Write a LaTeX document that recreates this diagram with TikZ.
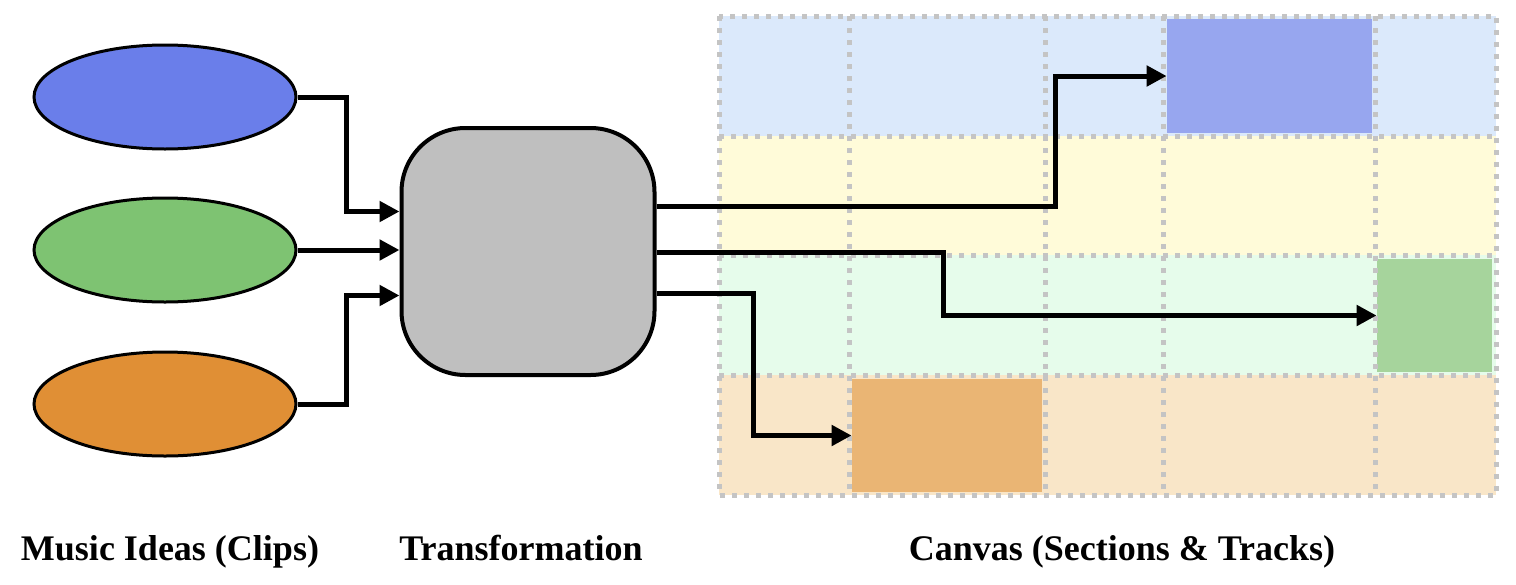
\documentclass[tikz,border=0pt]{standalone}
\usepackage{fontspec}
\setmainfont{Liberation Serif}
\usetikzlibrary{arrows.meta,calc,shapes.geometric}

\definecolor{ideaBlue}{HTML}{6A7EEA}
\definecolor{ideaGreen}{HTML}{7EC372}
\definecolor{ideaOrange}{HTML}{E08F35}
\definecolor{rowBlue}{HTML}{DBE9FB}
\definecolor{rowYellow}{HTML}{FFFBD9}
\definecolor{rowGreen}{HTML}{E6FCEB}
\definecolor{rowOrange}{HTML}{F9E6C8}
\definecolor{clipBlue}{HTML}{97A6EF}
\definecolor{clipGreen}{HTML}{A6D49C}
\definecolor{clipOrange}{HTML}{EAB574}
\definecolor{gridGray}{HTML}{C4C4C4}

\tikzset{
  idea/.style={ellipse, draw=black, line width=1.5pt, minimum width=131pt, minimum height=52pt, inner sep=0pt},
  flow/.style={line width=2.5pt, -{Triangle[length=10pt,width=10pt]}},
  gridline/.style={gridGray, line width=2.5pt, dash pattern=on 2.5pt off 3.5pt},
  caption/.style={font=\fontsize{18}{22}\selectfont\bfseries, anchor=base}
}

\begin{document}
\begin{tikzpicture}[x=0.5pt,y=-0.5pt]

   \useasboundingbox (0,0) rectangle (1516,584);

   % music ideas
   \node (IdeaBlue) at (165,97) [idea, fill=ideaBlue] {};
   \node (IdeaGreen) at (165,250) [idea, fill=ideaGreen] {};
   \node (IdeaOrange) at (165,404) [idea, fill=ideaOrange] {};

   % transformation
   \node (Transform) at (528,251.5) [draw=black, line width=2pt, fill=black!25, rounded corners=32pt, minimum width=126.5pt, minimum height=123.5pt] {};

   % canvas rows
   \fill [rowBlue] (719,16) rectangle (1496,136);
   \fill [rowYellow] (719,136) rectangle (1496,255);
   \fill [rowGreen] (719,255) rectangle (1496,375);
   \fill [rowOrange] (719,375) rectangle (1496,495);

   % clips on the canvas
   \node (ClipBlue) at (1269.5,76) [fill=clipBlue, minimum width=102.5pt, minimum height=57pt, inner sep=0pt] {};
   \node (ClipGreen) at (1434.5,315.5) [fill=clipGreen, minimum width=57.5pt, minimum height=56.5pt, inner sep=0pt] {};
   \node (ClipOrange) at (947,435.5) [fill=clipOrange, minimum width=95pt, minimum height=56.5pt, inner sep=0pt] {};

   % sections and tracks
   \foreach \gx in {849,1045,1163,1375}
      \draw [gridline] (\gx,16) -- (\gx,495);
   \foreach \gy in {136,255,375}
      \draw [gridline] (719,\gy) -- (1496,\gy);
   \draw [gridline] (719,16) rectangle (1496,495);

   % captions
   \node (IdeasLabel) at (170,560) [caption] {Music Ideas (Clips)};
   \node (TransformLabel) at (521,560) [caption] {Transformation};
   \node (CanvasLabel) at (1122,560) [caption] {Canvas (Sections \& Tracks)};

   % into the transformation
   \coordinate (InBlue) at ($(Transform.west)+(0,-40)$);
   \coordinate (InOrange) at ($(Transform.west)+(0,44)$);
   \draw [flow] (IdeaBlue.east) -| ($(InBlue)+(-53,0)$) -- (InBlue);
   \draw [flow] (IdeaGreen.east) -- (IdeaGreen.east -| Transform.west);
   \draw [flow] (IdeaOrange.east) -| ($(InOrange)+(-53,0)$) -- (InOrange);

   % onto the canvas
   \coordinate (OutBlue) at ($(Transform.east)+(0,-45.5)$);
   \coordinate (OutGreen) at ($(Transform.east)+(0,0.5)$);
   \coordinate (OutOrange) at ($(Transform.east)+(0,41.5)$);
   \draw [flow] (OutBlue) -| (1055,76) -- (ClipBlue.west);
   \draw [flow] (OutGreen) -| (943,315.5) -- (ClipGreen.west);
   \draw [flow] (OutOrange) -| (753,435.5) -- (ClipOrange.west);

\end{tikzpicture}
\end{document}
